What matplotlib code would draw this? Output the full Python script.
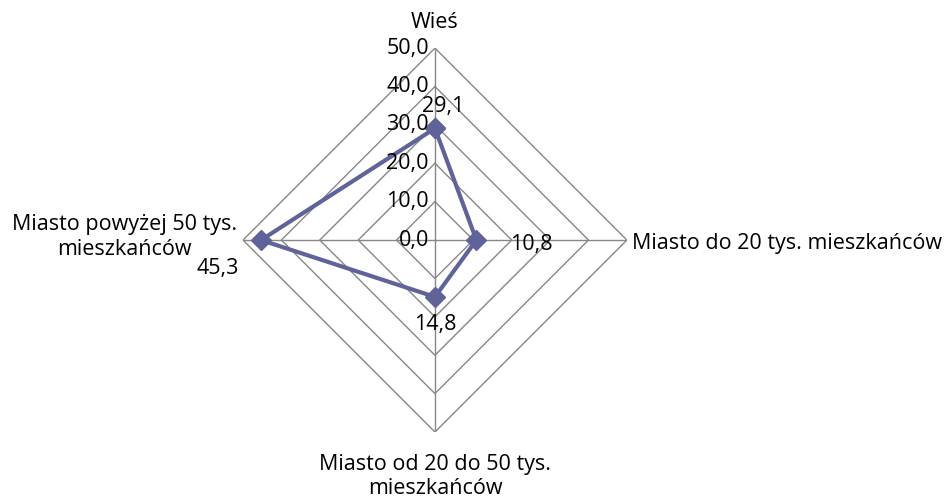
import matplotlib.pyplot as plt
import numpy as np

plt.rcParams["font.family"] = ["Open Sans", "DejaVu Sans"]

categories = ["Wieś", "Miasto do 20 tys. mieszkańców",
              "Miasto od 20 do 50 tys.\nmieszkańców",
              "Miasto powyżej 50 tys.\nmieszkańców"]
values = [29.1, 10.8, 14.8, 45.3]
value_labels = ["29,1", "10,8", "14,8", "45,3"]
rings = [0, 10, 20, 30, 40, 50]
ring_labels = ["0,0", "10,0", "20,0", "30,0", "40,0", "50,0"]

LINE = "#5F6399"
GRID = "#878787"
FS = 15.5


def main():
    fig = plt.figure(figsize=(9.45, 4.96), dpi=100)
    ax = fig.add_axes([0.2571, 0.129, 0.4063, 0.774], projection="polar")
    ax.set_theta_zero_location("N")
    ax.set_theta_direction(-1)
    ax.set_ylim(0, 50)
    ax.grid(False)
    ax.spines["polar"].set_visible(False)
    ax.set_xticks([])
    ax.set_yticks([])

    theta = np.arange(len(categories)) * 2 * np.pi / len(categories)
    closed = np.append(theta, theta[0])

    # diamond rings and spokes
    for r in rings[1:]:
        ax.plot(closed, [r] * len(closed), color=GRID, lw=1.0, zorder=1)
    for t in theta:
        ax.plot([t, t], [0, rings[-1]], color=GRID, lw=1.0, zorder=1)

    # series
    ax.plot(closed, values + values[:1], color=LINE, lw=3, marker="D",
            markersize=10, zorder=3, clip_on=False)

    # radial tick labels along the top spoke
    for r, lab in zip(rings, ring_labels):
        ax.annotate(lab, (0, r), xytext=(-6, 0), textcoords="offset pixels",
                    ha="right", va="center", fontsize=FS, zorder=4)

    # data labels
    offsets = [(8, 22), (55, -4), (0, -28), (-43, -28)]
    for t, v, lab, off in zip(theta, values, value_labels, offsets):
        ax.annotate(lab, (t, v), xytext=off, textcoords="offset pixels",
                    ha="center", va="center", fontsize=FS, zorder=4)

    # category labels
    cat_pos = [((0, 26), "center", "center"),
               ((5, -3), "left", "center"),
               ((0, -22), "center", "top"),
               ((-6, 3), "right", "center")]
    for t, lab, (off, ha, va) in zip(theta, categories, cat_pos):
        ax.annotate(lab, (t, rings[-1]), xytext=off, textcoords="offset pixels",
                    ha=ha, va=va, multialignment="center", fontsize=FS,
                    annotation_clip=False)

    fig.savefig("out.png", dpi=100)


if __name__ == "__main__":
    main()
